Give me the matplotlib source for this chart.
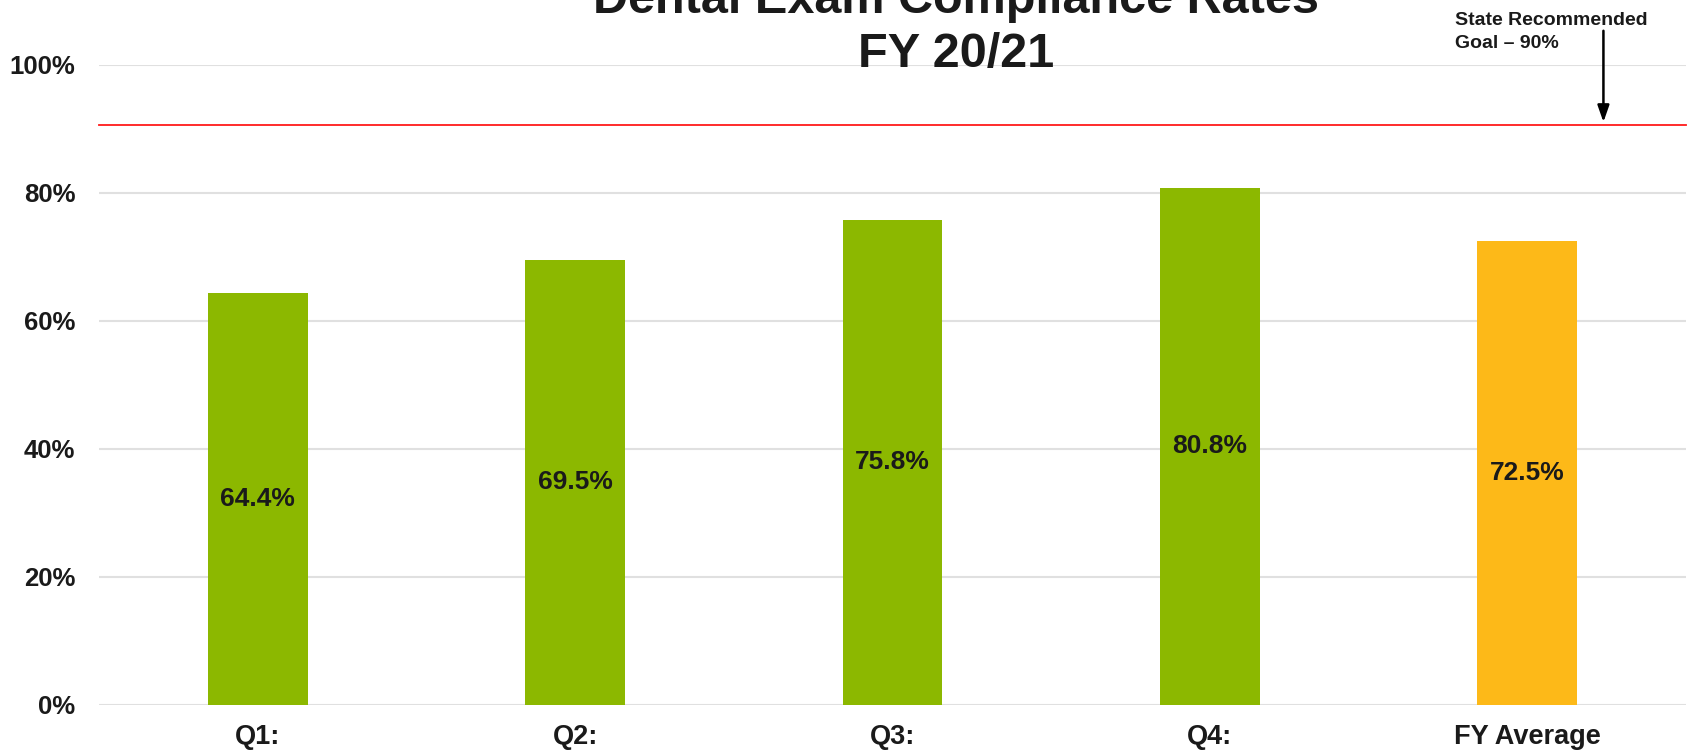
import matplotlib.pyplot as plt

plt.rcParams['font.family'] = ['Liberation Sans', 'DejaVu Sans']
plt.rcParams['font.weight'] = 'bold'

quarters = ['Q1:', 'Q2:', 'Q3:', 'Q4:', 'FY Average']
rates = [64.4, 69.5, 75.8, 80.8, 72.5]
bar_colors = ['#8cb800', '#8cb800', '#8cb800', '#8cb800', '#fdb918']
goal = 90.6
yticks = [0, 20, 40, 60, 80, 100]

fig = plt.figure(figsize=(16.9, 7.53), dpi=100)
ax = fig.add_axes([0.0586, 0.0641, 0.939, 0.850])

x = range(len(quarters))
ax.bar(x, rates, width=0.315, color=bar_colors, zorder=2)
for i, v in enumerate(rates):
	ax.text(i, v / 2, f'{v:.1f}%', ha='center', va='center',
		fontsize=19, fontweight='bold', color='#1a1a1a', zorder=3)

ax.axhline(goal, color='#ff1a1a', lw=1.3, zorder=3, clip_on=False)

ax.set_xlim(-0.5, 4.5)
ax.set_ylim(0, 100)
ax.set_yticks(yticks)
ax.set_yticklabels([f'{t}%' for t in yticks])
ax.set_xticks(list(x))
ax.set_xticklabels(quarters)
ax.tick_params(length=0, colors='#1a1a1a')
ax.tick_params(axis='y', pad=17, labelsize=18.5)
ax.tick_params(axis='x', pad=14, labelsize=19.5)
ax.grid(axis='y', color='#e0e0e0', lw=1.5, zorder=0)
for s in ax.spines.values():
	s.set_visible(False)

# title (top line runs off the top edge in the original)
fig.text(956 / 1690, 1 - 13 / 753, 'Dental Exam Compliance Rates', ha='center', va='baseline',
	fontsize=35, fontweight='bold', color='#1a1a1a')
fig.text(956 / 1690, 1 - 67 / 753, 'FY 20/21', ha='center', va='baseline',
	fontsize=35, fontweight='bold', color='#1a1a1a')

# goal annotation
ax.annotate('', xy=(4.24, goal), xycoords='data',
	xytext=(4.24, 1 - 28 / 753), textcoords=('data', 'figure fraction'),
	arrowprops=dict(arrowstyle='-|>,head_width=0.35,head_length=1.0', color='black', lw=1.8),
	annotation_clip=False)
fig.text(1455 / 1690, 1 - 25 / 753, 'State Recommended', ha='left', va='baseline',
	fontsize=14, fontweight='bold', color='#1a1a1a')
fig.text(1455 / 1690, 1 - 48 / 753, 'Goal \u2013 90%', ha='left', va='baseline',
	fontsize=14, fontweight='bold', color='#1a1a1a')

fig.savefig('out.png', dpi=100)
